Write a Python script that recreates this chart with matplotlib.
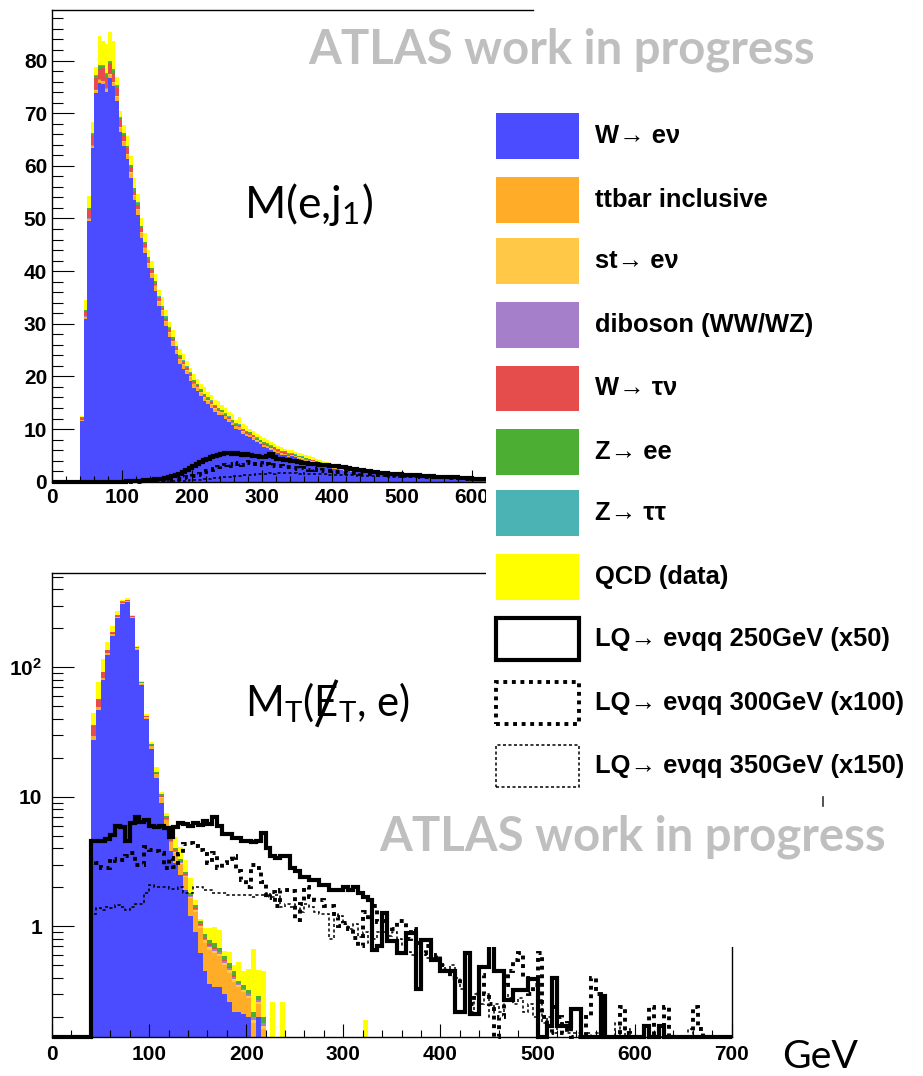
import numpy as np
import matplotlib
matplotlib.use("Agg")
import matplotlib.pyplot as plt
from matplotlib.patches import Rectangle
from matplotlib.lines import Line2D
from matplotlib.ticker import (MultipleLocator, FixedLocator, FixedFormatter,
                               LogLocator, NullFormatter)

plt.rcParams.update({
    "font.family": ["Liberation Sans", "DejaVu Sans"],
    "font.weight": "bold",
    "mathtext.fontset": "custom",
    "mathtext.bf": "Liberation Sans:bold",
    "mathtext.rm": "Lato",
    "mathtext.it": "Lato:italic",
})

FIG_W, FIG_H = 923, 1076
BIN_WIDTH = 5.0     # GeV
FIRST_EDGE = 40.0   # GeV, lowest filled bin edge

# ------------------------------------------------------------------
# M(e, j1): events per 5 GeV bin, bins starting at 40 GeV
# ------------------------------------------------------------------
mej_wenu = [
    11.6, 31.0, 49.5, 63.3, 73.8, 75.7, 75.5, 74.0, 76.7, 75.1,
    72.4, 66.4, 63.7, 61.3, 57.7, 53.5, 50.7, 46.3, 43.5, 40.5,
    38.6, 36.2, 33.3, 31.5, 29.6, 27.5, 25.7, 24.2, 22.4, 21.5,
    20.4, 19.2, 17.8, 17.2, 16.2, 15.3, 14.7, 14.0, 13.3, 12.7,
    12.6, 11.9, 11.3, 10.7, 10.1, 9.9, 9.1, 8.6, 8.4, 8.0,
    7.5, 7.1, 6.6, 6.4, 6.0, 5.7, 5.4, 5.1, 5.0, 4.6,
    4.8, 4.6, 4.3, 4.2, 3.9, 3.7, 3.6, 3.3, 3.1, 3.0,
    2.9, 2.8, 2.5, 2.5, 2.3, 2.1, 2.1, 1.9, 1.8, 1.8,
    1.8, 1.8, 1.6, 1.6, 1.5, 1.4, 1.4, 1.3, 1.2, 1.2,
    1.1, 1.1, 1.05, 1.0, 0.95, 0.95, 0.85, 0.85, 0.8, 0.75,
    0.7, 0.7, 0.6, 0.6, 0.6, 0.5, 0.5, 0.5, 0.4, 0.4,
    0.4, 0.4, 0.3, 0.3, 0.3, 0.3]
mej_ttbar = [
    0.1, 0.3, 0.4, 0.5, 0.5, 0.6, 0.5, 0.6, 0.6, 0.7,
    0.7, 0.8, 0.8, 0.8, 0.9, 0.8, 0.9, 0.9, 0.8, 0.9,
    0.9, 0.9, 0.8, 0.9, 0.8, 0.8, 0.8, 0.7, 0.8, 0.7,
    0.7, 0.7, 0.7, 0.6, 0.6, 0.6, 0.6, 0.6, 0.5, 0.5,
    0.5, 0.5, 0.5, 0.4, 0.4, 0.4, 0.4, 0.4, 0.4, 0.3,
    0.3, 0.3, 0.3, 0.3, 0.3, 0.3, 0.2, 0.2, 0.2, 0.2,
    0.2, 0.2, 0.2, 0.2, 0.2, 0.2, 0.2, 0.2, 0.2, 0.2,
    0.2, 0.2, 0.2, 0.15, 0.15, 0.15, 0.15, 0.15, 0.15, 0.15,
    0.1, 0.1, 0.1, 0.1, 0.1, 0.1, 0.1, 0.1, 0.1, 0.1,
    0.1, 0.1, 0.1, 0.1, 0.1, 0.1, 0.1, 0.1, 0.1, 0.1,
    0.1, 0.1, 0.1, 0.1, 0.1, 0.1, 0.1, 0.1, 0.1, 0.1,
    0.1, 0.1, 0.1, 0.1, 0.1, 0.1]
mej_singletop = [0.05] * 10 + [0.15] * 30 + [0.1] * 30 + [0.05] * 46
mej_diboson = [0.05] * 70 + [0.03] * 46
mej_wtaunu = [
    0.3, 1.0, 1.6, 1.8, 2.2, 2.0, 2.4, 2.2, 1.9, 1.8,
    1.5, 1.3, 1.1, 1.0, 0.9, 0.8, 0.8, 0.7, 0.6, 0.6,
    0.5, 0.5, 0.5, 0.4, 0.4, 0.4, 0.4, 0.3, 0.3, 0.3] + \
    [0.3] * 10 + [0.2] * 20 + [0.1] * 20 + [0.05] * 36
mej_zee = [0.1, 0.2, 0.3, 0.4, 0.5, 0.6, 0.5, 0.5, 0.5, 0.5] + \
    [0.4] * 10 + [0.3] * 10 + [0.25] * 10 + [0.2] * 20 + [0.1] * 20 + [0.05] * 36
mej_ztautau = [0.05, 0.1, 0.1, 0.1, 0.15, 0.15, 0.15, 0.15, 0.1, 0.1] + \
    [0.1] * 30 + [0.05] * 40 + [0.02] * 36
mej_qcd = [
    0.3, 1.8, 2.3, 2.2, 1.5, 5.5, 4.5, 5.5, 5.5, 5.5,
    1.5, 1.2, 1.5, 1.8, 1.6, 1.9, 1.5, 1.4, 1.6, 1.3,
    1.4, 1.3, 1.2, 1.6, 1.2, 1.1, 1.3, 1.0, 1.2, 1.1,
    1.0, 0.9, 1.1, 0.8, 1.0, 1.3, 0.9, 1.0, 0.8, 1.2,
    0.9, 1.0, 0.8, 1.1, 0.7, 1.3, 0.8, 0.9, 0.7, 0.8,
    0.7, 0.6, 0.8, 0.6, 0.7, 0.5, 0.6, 0.6, 0.5, 0.6,
    0.7, 0.5, 0.6, 0.4, 0.5, 0.5, 0.4, 0.4, 0.4, 0.3,
    0.4, 0.3, 0.4, 0.3, 0.3, 0.4, 0.3, 0.3, 0.3, 0.2,
    0.3, 0.2, 0.3, 0.2, 0.2, 0.3, 0.2, 0.2, 0.2, 0.2,
    0.2, 0.2, 0.15, 0.2, 0.15, 0.15, 0.15, 0.15, 0.1, 0.15,
    0.1, 0.1, 0.1, 0.1, 0.1, 0.1, 0.1, 0.1, 0.1, 0.1,
    0.1, 0.1, 0.1, 0.1, 0.1, 0.1]
mej_lq250 = [
    0, 0, 0, 0, 0, 0, 0, 0, 0, 0,
    0, 0, 0, 0.05, 0.1, 0.1, 0.15, 0.2, 0.25, 0.3,
    0.35, 0.45, 0.5, 0.6, 0.7, 0.85, 1.0, 1.2, 1.5, 1.8,
    2.2, 2.6, 3.0, 3.4, 3.7, 4.1, 4.4, 4.7, 4.9, 5.1,
    5.2, 5.4, 5.5, 5.3, 5.4, 5.2, 5.1, 5.2, 5.0, 4.9,
    4.8, 4.6, 4.7, 4.9, 5.3, 4.6, 4.4, 4.3, 4.2, 4.1,
    4.0, 3.9, 3.7, 3.6, 3.5, 3.4, 3.3, 3.3, 3.2, 3.2,
    3.1, 3.0, 2.9, 2.9, 2.8, 2.7, 2.6, 2.5, 2.4, 2.3,
    2.2, 2.1, 2.0, 1.9, 1.8, 1.7, 1.7, 1.6, 1.5, 1.5,
    1.4, 1.4, 1.3, 1.3, 1.3, 1.2, 1.2, 1.1, 1.1, 1.0,
    1.0, 0.9, 0.9, 0.9, 0.8, 0.8, 0.8, 0.8, 0.7, 0.7,
    0.7, 0.7, 0.6, 0.6, 0.6, 0.6]
mej_lq300 = [
    0, 0, 0, 0, 0, 0, 0, 0, 0, 0,
    0, 0, 0, 0, 0, 0, 0, 0, 0.05, 0.1,
    0.1, 0.15, 0.2, 0.25, 0.3, 0.35, 0.45, 0.5, 0.6, 0.7,
    0.8, 0.9, 1.1, 1.3, 1.5, 1.8, 2.0, 2.3, 2.5, 2.7,
    2.9, 3.1, 3.3, 3.0, 3.4, 3.6, 3.2, 3.5, 3.7, 3.3,
    3.4, 3.5, 3.2, 3.3, 3.0, 3.1, 2.9, 3.0, 2.8, 2.7,
    2.8, 2.6, 2.5, 2.6, 2.4, 2.3, 2.4, 2.2, 2.1, 2.2,
    2.0, 2.1, 1.9, 1.9, 1.8, 1.8, 1.7, 1.7, 1.6, 1.6,
    1.5, 1.5, 1.5, 1.4, 1.4, 1.3, 1.3, 1.3, 1.2, 1.2,
    1.2, 1.1, 1.1, 1.1, 1.0, 1.0, 1.0, 0.9, 0.9, 0.9,
    0.9, 0.8, 0.8, 0.8, 0.8, 0.7, 0.7, 0.7, 0.7, 0.6,
    0.6, 0.6, 0.6, 0.6, 0.5, 0.5]
mej_lq350 = [
    0, 0, 0, 0, 0, 0, 0, 0, 0, 0,
    0, 0, 0, 0, 0, 0, 0, 0, 0, 0,
    0, 0, 0, 0, 0.05, 0.05, 0.1, 0.1, 0.15, 0.2,
    0.2, 0.25, 0.3, 0.35, 0.4, 0.45, 0.5, 0.6, 0.65, 0.7,
    0.8, 0.85, 0.9, 1.0, 1.05, 1.1, 1.2, 1.25, 1.3, 1.35,
    1.4, 1.5, 1.45, 1.55, 1.6, 1.5, 1.65, 1.6, 1.7, 1.6,
    1.65, 1.6, 1.55, 1.6, 1.5, 1.55, 1.5, 1.45, 1.5, 1.4,
    1.4, 1.35, 1.35, 1.3, 1.3, 1.25, 1.25, 1.2, 1.2, 1.15,
    1.15, 1.1, 1.1, 1.05, 1.05, 1.0, 1.0, 1.0, 0.95, 0.95,
    0.9, 0.9, 0.9, 0.85, 0.85, 0.85, 0.8, 0.8, 0.8, 0.75,
    0.75, 0.75, 0.7, 0.7, 0.7, 0.7, 0.65, 0.65, 0.65, 0.6,
    0.6, 0.6, 0.6, 0.55, 0.55, 0.55]

# ------------------------------------------------------------------
# MT(MET, e): events per 5 GeV bin, bins starting at 40 GeV (log scale)
# ------------------------------------------------------------------
N_MT = 132
mt_wenu = [
    27.7, 47.1, 80.4, 125, 176, 240, 309, 320, 240, 137,
    73.3, 39.7, 23.5, 14.0, 9.0, 5.9, 3.8, 3.1, 2.5, 1.9,
    1.2, 0.9, 0.62, 0.45, 0.36, 0.34, 0.34, 0.3, 0.26, 0.22,
    0.22, 0.21, 0.2, 0.12, 0.2, 0.1, 0.05]
mt_ttbar = [
    1.6, 2.0, 2.5, 3.0, 3.5, 4.0, 4.5, 4.5, 3.5, 2.5,
    1.6, 1.2, 1.0, 0.9, 0.8, 0.7, 0.65, 0.6, 0.55, 0.5,
    0.45, 0.4, 0.35, 0.3, 0.3, 0.28, 0.25, 0.2, 0.18, 0.15,
    0.12, 0.1, 0.08, 0.06, 0.05, 0.06, 0.02]
mt_singletop = [
    0.2, 0.3, 0.4, 0.5, 0.6, 0.7, 0.8, 0.8, 0.6, 0.4,
    0.3, 0.2, 0.15, 0.1, 0.1, 0.08, 0.07, 0.06, 0.05, 0.05,
    0.04, 0.04, 0.03, 0.03, 0.03, 0.03, 0.02, 0.02, 0.02, 0.02,
    0.01, 0.01, 0.01, 0.01, 0.01, 0.01]
mt_diboson = [
    0.05, 0.1, 0.1, 0.15, 0.2, 0.2, 0.25, 0.25, 0.2, 0.15,
    0.1, 0.08, 0.06, 0.05, 0.04, 0.04, 0.03, 0.03, 0.03, 0.03,
    0.02, 0.02, 0.02, 0.02, 0.02, 0.02, 0.02, 0.02, 0.02, 0.02,
    0.01, 0.01, 0.01, 0.01, 0.01, 0.01]
mt_wtaunu = [
    5.7, 6.5, 8.0, 7.0, 6.0, 6.0, 5.0, 4.0, 3.0, 1.5,
    0.8, 0.6, 0.4, 0.3, 0.2, 0.15, 0.1, 0.08, 0.05, 0.04,
    0.03, 0.03, 0.02, 0.02, 0.02, 0.02, 0.01, 0.01, 0.01, 0.01]
mt_zee = [
    0.4, 0.6, 0.8, 1.0, 1.5, 2.0, 2.5, 2.5, 2.0, 1.5,
    1.0, 0.6, 0.4, 0.3, 0.3, 0.25, 0.2, 0.15, 0.12, 0.1,
    0.08, 0.07, 0.06, 0.06, 0.05, 0.05, 0.04, 0.04, 0.03, 0.03,
    0.02, 0.02, 0.02, 0.02, 0.02, 0.02]
mt_ztautau = [
    0.2, 0.3, 0.4, 0.4, 0.4, 0.4, 0.3, 0.3, 0.2, 0.1,
    0.1, 0.05, 0.04, 0.03, 0.02, 0.02, 0.02, 0.01, 0.01, 0.01]
mt_qcd = [
    8.6, 20.1, 22.4, 19.0, 18.8, 17.7, 10.7, 10.7, 5.5, 1.9,
    0.8, 1.5, 0.9, 1.3, 0.5, 0.4, 1.2, 0.9, 0.8, 0.6,
    0.55, 0.15, 0.05, 0.1, 0.2, 0.25, 0.25, 0.06, 0.12, 0.05,
    0.15, 0.1, 0.15, 0.45, 0.17, 0.25, 0.02, 0.26, 0, 0.26,
    0, 0, 0, 0, 0, 0, 0, 0, 0, 0,
    0, 0, 0, 0, 0, 0, 0.19]
mt_lq250 = [
    4.6, 4.6, 4.6, 4.7, 5.1, 6.0, 5.9, 4.6, 6.3, 7.0,
    6.4, 6.6, 6.0, 5.9, 6.0, 5.8, 4.9, 5.9, 6.3, 6.2,
    6.0, 6.3, 6.1, 6.5, 6.2, 7.0, 6.0, 5.2, 5.2, 4.8,
    4.8, 4.6, 4.6, 4.5, 4.6, 5.3, 4.0, 3.5, 3.4, 3.5,
    3.5, 2.8, 2.7, 2.4, 2.4, 2.3, 2.3, 2.1, 2.1, 1.9,
    1.9, 1.9, 2.0, 1.9, 2.0, 1.8, 1.7, 1.6, 0.66, 0.7,
    1.27, 0.77, 0.77, 0.62, 0.62, 0.89, 0.89, 0.33, 0.79, 0.79,
    0.55, 0.55, 0.45, 0.45, 0.45, 0.22, 0.22, 0.62, 0.21, 0.21,
    0.49, 0.49, 0.91, 0.45, 0.45, 0.27, 0.27, 0.32, 0.32, 0.32,
    0.39, 0.39, 0, 0, 0.17, 0.4, 0.17, 0.17, 0.17, 0.23,
    0.23, 0, 0, 0, 0, 0.29, 0, 0, 0, 0,
    0, 0, 0, 0, 0.17, 0, 0, 0.17]
mt_lq300 = [
    3.27, 3.1, 2.8, 2.8, 3.3, 3.2, 3.27, 3.5, 3.7, 3.0,
    3.0, 4.1, 3.9, 3.8, 3.7, 2.8, 3.4, 2.9, 3.6, 4.3,
    4.4, 4.2, 3.9, 3.6, 3.1, 3.7, 2.8, 3.1, 3.3, 3.5,
    2.7, 2.3, 2.0, 3.0, 2.8, 2.2, 1.67, 1.85, 1.43, 1.9,
    1.9, 1.88, 1.12, 1.48, 2.0, 1.7, 1.6, 1.6, 1.43, 1.43,
    1.18, 1.0, 1.07, 0.95, 0.82, 0.7, 1.3, 1.1, 1.43, 1.08,
    1.1, 1.0, 0.95, 1.1, 1.1, 0.8, 0.95, 0.75, 0.62, 0.7,
    0.55, 0.6, 0.5, 0.45, 0.4, 0.4, 0.35, 0.3, 0.25, 0.3,
    0.42, 0.3, 0.25, 0.14, 0.2, 0.35, 0.45, 0.55, 0.62, 0.4,
    0.3, 0.35, 0.62, 0.2, 0.15, 0.24, 0.2, 0.15, 0.18, 0.1,
    0.1, 0.1, 0.2, 0.4, 0.3, 0.1, 0.1, 0.1, 0.1, 0.24,
    0.15, 0.1, 0.1, 0.1, 0.1, 0.24, 0.1, 0.1, 0.24, 0.1,
    0.1, 0.1, 0.1, 0.1, 0.24, 0.16, 0.1, 0.1, 0.1, 0.1]
mt_lq350 = [
    1.25, 1.39, 1.35, 1.4, 1.39, 1.45, 1.4, 1.35, 1.4, 1.5,
    1.5, 1.8, 2.1, 2.0, 2.0, 2.0, 1.93, 1.93, 2.0, 1.8,
    1.8, 2.0, 2.0, 1.9, 1.9, 1.8, 1.8, 1.8, 1.75, 1.75,
    1.75, 1.75, 1.75, 1.7, 1.75, 1.75, 1.8, 1.7, 1.75, 1.4,
    1.5, 1.4, 1.5, 1.3, 1.5, 1.4, 1.3, 1.25, 1.25, 0.8,
    1.25, 1.2, 1.05, 0.95, 1.05, 0.83, 0.9, 0.75, 0.8, 0.9,
    0.9, 0.85, 0.9, 0.8, 0.7, 0.64, 0.6, 0.62, 0.6, 0.57,
    0.57, 0.55, 0.5, 0.45, 0.5, 0.4, 0.33, 0.28, 0.22, 0.3,
    0.25, 0.3, 0.2, 0.25, 0.22, 0.3, 0.28, 0.25, 0.28, 0.22,
    0.25, 0.2, 0.27, 0.18, 0.2, 0.15, 0.18, 0.17, 0.15, 0.15,
    0.15, 0.12, 0.15, 0.12, 0.15, 0.18, 0.12, 0.1, 0.18, 0.12,
    0.16, 0.12, 0.1, 0.12, 0.1, 0.1, 0.12, 0.1, 0.1, 0.12,
    0.1, 0.12, 0.1, 0.16, 0.1, 0.12, 0.1, 0.1, 0.1, 0.1]

# ------------------------------------------------------------------
# Legend entries and colours
# ------------------------------------------------------------------
bkg_labels = ["W\u2192 e\u03bd", "ttbar inclusive", "st\u2192 e\u03bd",
              "diboson (WW/WZ)", "W\u2192 \u03c4\u03bd", "Z\u2192 ee",
              "Z\u2192 \u03c4\u03c4", "QCD (data)"]
bkg_colors = ["#4b4bff", "#ffad29", "#ffc847", "#a57fc9",
              "#e54c4c", "#4caf33", "#4bb3b3", "#ffff00"]
sig_labels = ["LQ\u2192 e\u03bdqq 250GeV (x50)",
              "LQ\u2192 e\u03bdqq 300GeV (x100)",
              "LQ\u2192 e\u03bdqq 350GeV (x150)"]


def padded(vals, n):
    v = np.asarray(vals, dtype=float)
    return np.concatenate([v, np.zeros(n - len(v))])


def bin_edges(n):
    return FIRST_EDGE + BIN_WIDTH * np.arange(n + 1)


fig = plt.figure(figsize=(FIG_W / 100, FIG_H / 100), dpi=100)
fig.patch.set_facecolor("white")
renderer = fig.canvas.get_renderer()


def px_rect(x0, y0, x1, y1):
    return [x0 / FIG_W, 1 - y1 / FIG_H, (x1 - x0) / FIG_W, (y1 - y0) / FIG_H]


def fig_xy(px, py):
    return px / FIG_W, 1 - py / FIG_H


def draw_stack(ax, layers, n, fill_floor):
    edges = bin_edges(n)
    cum = np.zeros(n)
    for vals, color in zip(layers, bkg_colors):
        top = cum + padded(vals, n)
        ax.stairs(np.maximum(top, fill_floor), edges,
                  baseline=np.maximum(cum, fill_floor),
                  fill=True, facecolor=color, edgecolor="none", lw=0)
        cum = top


SIG_STYLES = [
    dict(lw=3.0, linestyle="-", joinstyle="miter"),
    dict(lw=2.8, linestyle=(0, (1.0, 1.2)), capstyle="butt"),
    dict(lw=1.1, linestyle=(0, (2.0, 1.6)), capstyle="butt"),
]


def draw_signal(ax, vals, floor, style):
    v = np.concatenate([[0.0], np.asarray(vals, dtype=float)])
    edges = np.concatenate([[0.0], bin_edges(len(vals))])
    ax.stairs(np.maximum(v, floor), edges, baseline=None, fill=False,
              edgecolor="black", clip_on=False, zorder=3, **style)


# ---------------------------- upper panel -------------------------
ax1 = fig.add_axes(px_rect(52, 10, 533, 481.7))
n_mej = len(mej_wenu)
draw_stack(ax1, [mej_wenu, mej_ttbar, mej_singletop, mej_diboson,
                 mej_wtaunu, mej_zee, mej_ztautau, mej_qcd], n_mej, 0.0)
for vals, st in zip([mej_lq250, mej_lq300, mej_lq350], SIG_STYLES):
    draw_signal(ax1, vals, 0.0, st)
ax1.set_xlim(0, 687)
ax1.set_ylim(0, 89.6)
ax1.spines["right"].set_visible(False)
ax1.xaxis.set_major_locator(MultipleLocator(100))
ax1.xaxis.set_minor_locator(MultipleLocator(20))
ax1.yaxis.set_major_locator(MultipleLocator(10))
ax1.yaxis.set_minor_locator(MultipleLocator(2))
ax1.tick_params(which="both", direction="in", top=False, right=False,
                width=0.8, labelsize=15)
ax1.tick_params(axis="y", which="major", length=15.8, pad=3.5)
ax1.tick_params(axis="y", which="minor", length=7.9)
ax1.tick_params(axis="x", which="major", length=9.0, pad=4.5)
ax1.tick_params(axis="x", which="minor", length=4.5)

# ---------------------------- lower panel -------------------------
ax2 = fig.add_axes(px_rect(52, 573, 731.7, 1037))
ax2.set_yscale("log")
YMIN = 0.14
draw_stack(ax2, [mt_wenu, mt_ttbar, mt_singletop, mt_diboson,
                 mt_wtaunu, mt_zee, mt_ztautau, mt_qcd], N_MT, 1e-3)
for vals, st in zip([mt_lq250, mt_lq300, mt_lq350], SIG_STYLES):
    draw_signal(ax2, padded(vals, N_MT), YMIN, st)
ax2.set_xlim(0, 700)
ax2.set_ylim(YMIN, 535)
ax2.xaxis.set_major_locator(MultipleLocator(100))
ax2.xaxis.set_minor_locator(MultipleLocator(20))
ax2.yaxis.set_major_locator(FixedLocator([1, 10, 100]))
ax2.yaxis.set_major_formatter(FixedFormatter(["1", "10", r"10$^{\mathbf{2}}$"]))
ax2.yaxis.set_minor_locator(LogLocator(base=10, subs=range(2, 10), numticks=20))
ax2.yaxis.set_minor_formatter(NullFormatter())
ax2.tick_params(which="both", direction="in", top=False, right=False,
                width=0.8, labelsize=15)
ax2.tick_params(axis="y", which="major", length=15.8, pad=7)
ax2.tick_params(axis="y", which="minor", length=7.9)
ax2.tick_params(axis="x", which="major", length=9.5, pad=5.5)
ax2.tick_params(axis="x", which="minor", length=5.0)

for ax in (ax1, ax2):
    for sp in ax.spines.values():
        sp.set_linewidth(1.0)
    ax.set_facecolor("none")

# ------------------------------ legend ----------------------------
fig.add_artist(Rectangle(fig_xy(486, 947), (923 - 486) / FIG_W, (947 - 20) / FIG_H,
                         transform=fig.transFigure, facecolor="white",
                         edgecolor="none", zorder=2))

row_tops = [113, 177, 238.5, 302, 365.5, 429, 490.5, 554, 618, 682, 744.5]
ROW_H = 45.8
for i, (lab, col) in enumerate(zip(bkg_labels, bkg_colors)):
    y0 = row_tops[i]
    fig.add_artist(Rectangle(fig_xy(496, y0 + ROW_H), 83 / FIG_W, ROW_H / FIG_H,
                             transform=fig.transFigure, facecolor=col,
                             edgecolor="none", zorder=3))
    fig.text(*fig_xy(595, y0 + ROW_H / 2), lab, fontsize=18.4,
             fontweight="bold", ha="left", va="center", zorder=4)
for j, (lab, st) in enumerate(zip(sig_labels, SIG_STYLES)):
    y0 = row_tops[8 + j]
    fig.add_artist(Rectangle(fig_xy(496, y0 + 42), 83 / FIG_W, 42 / FIG_H,
                             transform=fig.transFigure, facecolor="none",
                             edgecolor="black", zorder=3, **st))
    fig.text(*fig_xy(595, y0 + 21), lab, fontsize=18.4,
             fontweight="bold", ha="left", va="center", zorder=4)


# --------------------------- annotations --------------------------
def fitted_text(s, left, baseline, width, **kw):
    t = fig.text(*fig_xy(left, baseline), s, ha="left", va="baseline",
                 fontsize=20, zorder=5, **kw)
    w = t.get_window_extent(renderer).width
    t.set_fontsize(20 * width / w)
    return t


fitted_text("ATLAS work in progress", 308.6, 63.3, 507,
            family="Lato", fontweight="bold", color="#bfbfbf")
fitted_text("ATLAS work in progress", 379.3, 850.5, 507,
            family="Lato", fontweight="bold", color="#bfbfbf")
fitted_text(r"M(e,j$_{\mathregular{1}}$)", 244, 218, 130,
            family="Lato", fontweight="normal", color="black")
fitted_text(r"M$_{\mathregular{T}}$(E$_{\mathregular{T}}$, e)", 245, 716.7, 166,
            family="Lato", fontweight="normal", color="black")
fitted_text("GeV", 782, 1068, 76, family="Lato", fontweight="normal",
            color="black")

# slash through E for missing transverse energy
sx0, sy0 = fig_xy(316.7, 726.7)
sx1, sy1 = fig_xy(336.7, 680)
fig.add_artist(Line2D([sx0, sx1], [sy0, sy1], transform=fig.transFigure,
                      color="black", lw=2.6, solid_capstyle="butt", zorder=6))
# small mark below legend
mx, my0 = fig_xy(823, 806)
_, my1 = fig_xy(823, 797)
fig.add_artist(Line2D([mx, mx], [my0, my1], transform=fig.transFigure,
                      color="#333333", lw=1.2, zorder=6))

fig.savefig("out.png", dpi=100, facecolor="white")
